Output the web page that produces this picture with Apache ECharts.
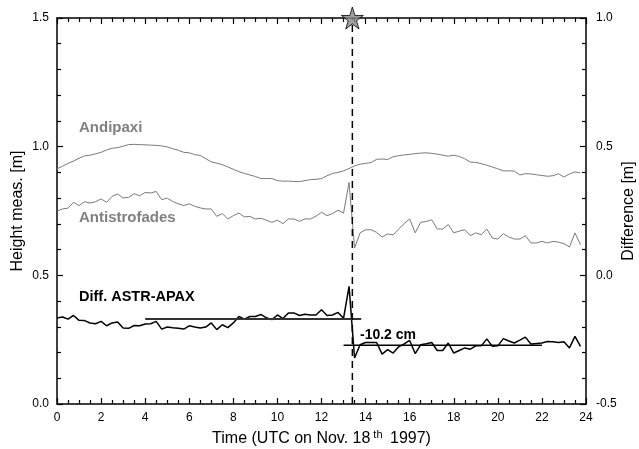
<!DOCTYPE html>
<html>
<head>
<meta charset="utf-8">
<script src="https://cdn.jsdelivr.net/npm/echarts@6/dist/echarts.min.js"></script>
<style>
html, body { margin: 0; padding: 0; background: #fff; }
#main { width: 639px; height: 449px; }
</style>
</head>
<body>
<div id="main"></div>
<script>
// hours (UTC, Nov. 18th 1997)
var times = [0, 0.25, 0.5, 0.75, 1, 1.25, 1.5, 1.75, 2, 2.25, 2.5, 2.75, 3, 3.25, 3.5, 3.75,
    4, 4.25, 4.5, 4.75, 5, 5.25, 5.5, 5.75, 6, 6.25, 6.5, 6.75, 7, 7.25, 7.5, 7.75,
    8, 8.25, 8.5, 8.75, 9, 9.25, 9.5, 9.75, 10, 10.25, 10.5, 10.75, 11, 11.25, 11.5, 11.75,
    12, 12.25, 12.5, 12.75, 13, 13.25, 13.5, 13.75, 14, 14.25, 14.5, 14.75, 15, 15.25, 15.5, 15.75,
    16, 16.25, 16.5, 16.75, 17, 17.25, 17.5, 17.75, 18, 18.25, 18.5, 18.75, 19, 19.25, 19.5, 19.75,
    20, 20.25, 20.5, 20.75, 21, 21.25, 21.5, 21.75, 22, 22.25, 22.5, 22.75, 23, 23.25, 23.5, 23.75];

var andipaxi = [0.914, 0.924, 0.935, 0.944, 0.955, 0.964, 0.967, 0.972, 0.978, 0.987, 0.994, 0.996, 1.002, 1.008, 1.009, 1.008,
    1.007, 1.006, 1.005, 1.003, 0.999, 0.992, 0.986, 0.978, 0.976, 0.969, 0.966, 0.953, 0.941, 0.936, 0.930, 0.921,
    0.912, 0.903, 0.896, 0.890, 0.884, 0.876, 0.876, 0.876, 0.868, 0.866, 0.866, 0.865, 0.864, 0.868, 0.872, 0.873,
    0.876, 0.887, 0.896, 0.900, 0.906, 0.915, 0.925, 0.932, 0.935, 0.938, 0.951, 0.952, 0.950, 0.961, 0.965, 0.968,
    0.970, 0.973, 0.975, 0.976, 0.974, 0.971, 0.967, 0.963, 0.967, 0.962, 0.953, 0.940, 0.939, 0.934, 0.928, 0.921,
    0.914, 0.906, 0.906, 0.905, 0.890, 0.895, 0.894, 0.891, 0.888, 0.885, 0.887, 0.895, 0.882, 0.894, 0.902, 0.898];

var antistrofades = [0.750, 0.758, 0.761, 0.784, 0.771, 0.786, 0.781, 0.786, 0.797, 0.784, 0.807, 0.816, 0.801, 0.803, 0.817, 0.809,
    0.822, 0.820, 0.826, 0.794, 0.800, 0.787, 0.778, 0.771, 0.778, 0.768, 0.762, 0.758, 0.758, 0.729, 0.740, 0.719,
    0.732, 0.742, 0.727, 0.729, 0.719, 0.722, 0.714, 0.706, 0.714, 0.701, 0.719, 0.719, 0.710, 0.719, 0.719, 0.730,
    0.745, 0.732, 0.740, 0.753, 0.742, 0.861, 0.606, 0.665, 0.677, 0.677, 0.667, 0.649, 0.661, 0.657, 0.680, 0.701,
    0.719, 0.665, 0.706, 0.709, 0.716, 0.680, 0.680, 0.697, 0.665, 0.672, 0.677, 0.654, 0.665, 0.658, 0.680, 0.645,
    0.641, 0.662, 0.649, 0.641, 0.641, 0.654, 0.626, 0.626, 0.632, 0.626, 0.632, 0.629, 0.623, 0.610, 0.665, 0.619];

var diffAstrApax = [-0.166, -0.162, -0.170, -0.156, -0.175, -0.176, -0.185, -0.188, -0.179, -0.196, -0.185, -0.181, -0.205, -0.206, -0.195, -0.196,
    -0.189, -0.188, -0.179, -0.209, -0.201, -0.204, -0.206, -0.209, -0.196, -0.201, -0.205, -0.201, -0.185, -0.211, -0.192, -0.203,
    -0.185, -0.160, -0.170, -0.160, -0.160, -0.152, -0.165, -0.172, -0.154, -0.168, -0.146, -0.146, -0.156, -0.151, -0.154, -0.154,
    -0.134, -0.156, -0.154, -0.144, -0.167, -0.043, -0.321, -0.270, -0.261, -0.261, -0.261, -0.306, -0.289, -0.302, -0.278, -0.266,
    -0.253, -0.304, -0.270, -0.266, -0.261, -0.292, -0.292, -0.263, -0.302, -0.292, -0.282, -0.287, -0.274, -0.274, -0.247, -0.276,
    -0.274, -0.246, -0.255, -0.263, -0.252, -0.240, -0.267, -0.265, -0.263, -0.257, -0.258, -0.261, -0.258, -0.282, -0.237, -0.276];

// mean levels before / after the event (difference axis)
var fitBefore = [[4, -0.170], [13.8, -0.170]];
var fitAfter = [[13.0, -0.272], [22.0, -0.272]];
var eventTime = 13.4;
var stepLabel = "-10.2 cm";

var xTicks = [0, 24, 2];
var leftTicks = [0, 1.5, 0.5];
var rightTicks = [-0.5, 1.0, 0.5];

function pairs(t, v) {
    var out = [];
    for (var i = 0; i < t.length; i++) out.push([t[i], v[i]]);
    return out;
}

var FONT = "Liberation Sans";
var starPath = "path://M50,0 L61,35 L98,35 L68,57 L79,91 L50,70 L21,91 L32,57 L2,35 L39,35 Z";

var chart = echarts.init(document.getElementById("main"));

var tickStyle = { color: "#000", width: 1.2 };
function yAxisOf(pos, ticks, name, gap, margin) {
    return {
        type: "value",
        position: pos,
        min: ticks[0], max: ticks[1], interval: ticks[2],
        axisLine: { show: true, onZero: false, lineStyle: { color: "#000", width: 1.5 } },
        axisTick: { show: true, inside: true, length: 6, lineStyle: tickStyle },
        minorTick: { show: true, splitNumber: 5, length: 4, lineStyle: tickStyle },
        splitLine: { show: false },
        axisLabel: { color: "#000", fontFamily: FONT, fontSize: 12, margin: margin,
            formatter: function(v) { return v.toFixed(1); } },
        name: name,
        nameLocation: "middle",
        nameRotate: 90,
        nameGap: gap,
        nameMoveOverlap: false,
        nameTextStyle: { color: "#000", fontFamily: FONT, fontSize: 16 }
    };
}
function xAxisOf(pos, showLabel) {
    return {
        type: "value",
        position: pos,
        min: xTicks[0], max: xTicks[1], interval: xTicks[2],
        axisLine: { show: true, onZero: false, lineStyle: { color: "#000", width: 1.5 } },
        axisTick: { show: true, inside: true, length: 6, lineStyle: tickStyle },
        minorTick: { show: true, splitNumber: 4, length: 4, lineStyle: tickStyle },
        splitLine: { show: false },
        axisLabel: { show: showLabel, color: "#000", fontFamily: FONT, fontSize: 12, margin: 8 }
    };
}

var bottomAxis = xAxisOf("bottom", true);
bottomAxis.name = "Time (UTC on Nov. 18{sup|th} 1997)";
bottomAxis.nameLocation = "middle";
bottomAxis.nameGap = 25;
bottomAxis.nameMoveOverlap = false;
bottomAxis.nameTextStyle = {
    color: "#000", fontFamily: FONT, fontSize: 16,
    rich: { sup: { fontFamily: FONT, fontSize: 11, verticalAlign: "top", padding: [0, 3, 9, 3] } }
};

chart.setOption({
    animation: false,
    backgroundColor: "#fff",
    grid: { left: 57, right: 53, top: 18, bottom: 45, containLabel: false, outerBoundsMode: "none" },
    xAxis: [bottomAxis, xAxisOf("top", false)],
    yAxis: [
        yAxisOf("left", leftTicks, "Height meas. [m]", 31, 8),
        yAxisOf("right", rightTicks, "Difference [m]", 35, 10)
    ],
    series: [{
        name: "Andipaxi", type: "line", yAxisIndex: 0,
        data: pairs(times, andipaxi), showSymbol: false,
        lineStyle: { color: "#7a7a7a", width: 1 }
    }, {
        name: "Antistrofades", type: "line", yAxisIndex: 0,
        data: pairs(times, antistrofades), showSymbol: false,
        lineStyle: { color: "#7a7a7a", width: 1 }
    }, {
        name: "Diff. ASTR-APAX", type: "line", yAxisIndex: 1,
        data: pairs(times, diffAstrApax), showSymbol: false,
        lineStyle: { color: "#000", width: 1.5 }
    }, {
        name: "fit1", type: "line", yAxisIndex: 1,
        data: fitBefore, showSymbol: false,
        lineStyle: { color: "#333", width: 2 }
    }, {
        name: "fit2", type: "line", yAxisIndex: 1,
        data: fitAfter, showSymbol: false,
        lineStyle: { color: "#000", width: 1.5 }
    }, {
        name: "event", type: "line", yAxisIndex: 0,
        data: [[eventTime, 0], [eventTime, 1.5]], showSymbol: false,
        lineStyle: { color: "#000", width: 1.5, type: [7, 5] }
    }, {
        name: "star", type: "scatter", yAxisIndex: 0,
        data: [[eventTime, 1.5]], clip: false,
        symbol: starPath, symbolSize: 22, z: 10,
        itemStyle: { color: "#8a8a8a", borderColor: "#000", borderWidth: 1 }
    }],
    graphic: [
        { type: "text", x: 79, y: 128, style: { text: "Andipaxi", fill: "#808080", font: "bold 15px " + FONT, verticalAlign: "middle" } },
        { type: "text", x: 79, y: 218, style: { text: "Antistrofades", fill: "#808080", font: "bold 15px " + FONT, verticalAlign: "middle" } },
        { type: "text", x: 79, y: 297, style: { text: "Diff. ASTR-APAX", fill: "#000", font: "bold 14.5px " + FONT, verticalAlign: "middle" } },
        { type: "text", x: 360, y: 335, style: { text: stepLabel, fill: "#000", font: "bold 14px " + FONT, verticalAlign: "middle" } }
    ]
});
</script>
</body>
</html>
